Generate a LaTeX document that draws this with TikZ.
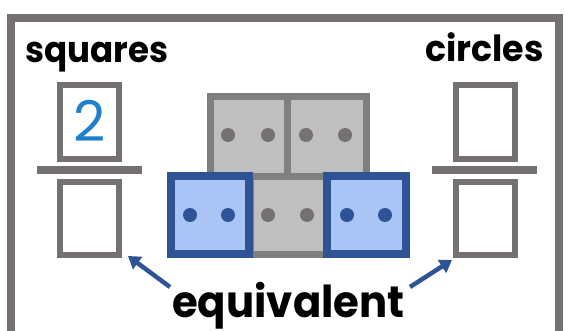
\documentclass[tikz,border=0pt]{standalone}
\usepackage{fontspec}
\setmainfont{Poppins}
\usetikzlibrary{arrows.meta,calc}
\definecolor{frm}{HTML}{767171}
\definecolor{gfill}{HTML}{BFBFBF}
\definecolor{gline}{HTML}{7F7F7F}
\definecolor{bline}{HTML}{2F5496}
\definecolor{bfill}{HTML}{A9C4F5}
\definecolor{digit}{HTML}{1F7FCF}
\tikzset{
  fbox/.style={draw=frm, line width=6pt, minimum width=59pt, inner sep=0pt, outer sep=0pt},
  fbar/.style={fill=frm, minimum width=105pt, minimum height=8pt, inner sep=0pt, outer sep=0pt},
  gbox/.style={draw=gline, fill=gfill, line width=7pt, inner sep=0pt, outer sep=0pt},
  bbox/.style={draw=bline, fill=bfill, line width=8pt, inner sep=0pt, outer sep=0pt},
  gdot/.style={fill=frm},
  bdot/.style={fill=bline},
  lbl/.style={font=\bfseries\fontsize{36}{36}\selectfont, inner sep=0pt, anchor=base west},
  arr/.style={draw=bline, line width=4.5pt, -{Triangle[length=12pt,width=15pt]}}
}
\begin{document}
\begin{tikzpicture}[x=1pt,y=-1pt]
\useasboundingbox (0,0) rectangle (565,331);
\clip (0,0) rectangle (565,331);
\draw[frm, line width=8pt] (11,345) -- (11,18) -- (559,18) -- (559,345);
% labels
\node[lbl] (sq) at (25,63) {\scalebox{0.947}[1]{squares}};
\node[lbl] (ci) at (425,62) {\scalebox{0.967}[1]{circles}};
\node[lbl, font=\bfseries\fontsize{44}{44}\selectfont] (eq) at (172,317) {\scalebox{0.95}[1]{equivalent}};
% left fraction
\node[fbox, minimum height=74pt] (ltop) at (89.5,122) {};
\node[text=digit, font=\fontsize{56}{56}\selectfont, inner sep=0pt] (two) at (89.5,121) {2};
\node[fbar] (lbar) at (89.5,170) {};
\node[fbox, minimum height=73pt] (lbot) at (89.5,218.5) {};
% right fraction
\node[fbox, minimum height=74pt] (rtop) at (485.5,122) {};
\node[fbar] (rbar) at (484.5,170) {};
\node[fbox, minimum height=73pt] (rbot) at (485.5,218.5) {};
% blocks
\node[gbox, minimum width=76.5pt, minimum height=80pt] (g1) at (248.75,136.5) {};
\node[gbox, minimum width=79.5pt, minimum height=80pt] (g2) at (326.75,136.5) {};
\node[gbox, minimum width=76pt, minimum height=78pt] (g3) at (288.5,215.5) {};
\node[bbox, minimum width=78pt, minimum height=78pt] (b1) at (210,215) {};
\node[bbox, minimum width=79pt, minimum height=78pt] (b2) at (366.5,215) {};
% dots
\fill[gdot] (228,135) circle (7pt);
\fill[gdot] (268,135) circle (7pt);
\fill[gdot] (306,135) circle (7pt);
\fill[gdot] (345,135) circle (7pt);
\fill[bdot] (190,215) circle (7pt);
\fill[bdot] (228,215) circle (7pt);
\fill[gdot] (268,215) circle (7pt);
\fill[gdot] (307,215) circle (7pt);
\fill[bdot] (347,215) circle (7pt);
\fill[bdot] (385,215) circle (7pt);
% arrows
\coordinate (la) at (170,287);
\coordinate (ra) at (410,287);
\draw[arr] (la) -- ([xshift=9pt,yshift=-1pt]lbot.south east);
\draw[arr] (ra) -- ([xshift=-4pt,yshift=-5pt]rbot.south west);
\end{tikzpicture}
\end{document}
